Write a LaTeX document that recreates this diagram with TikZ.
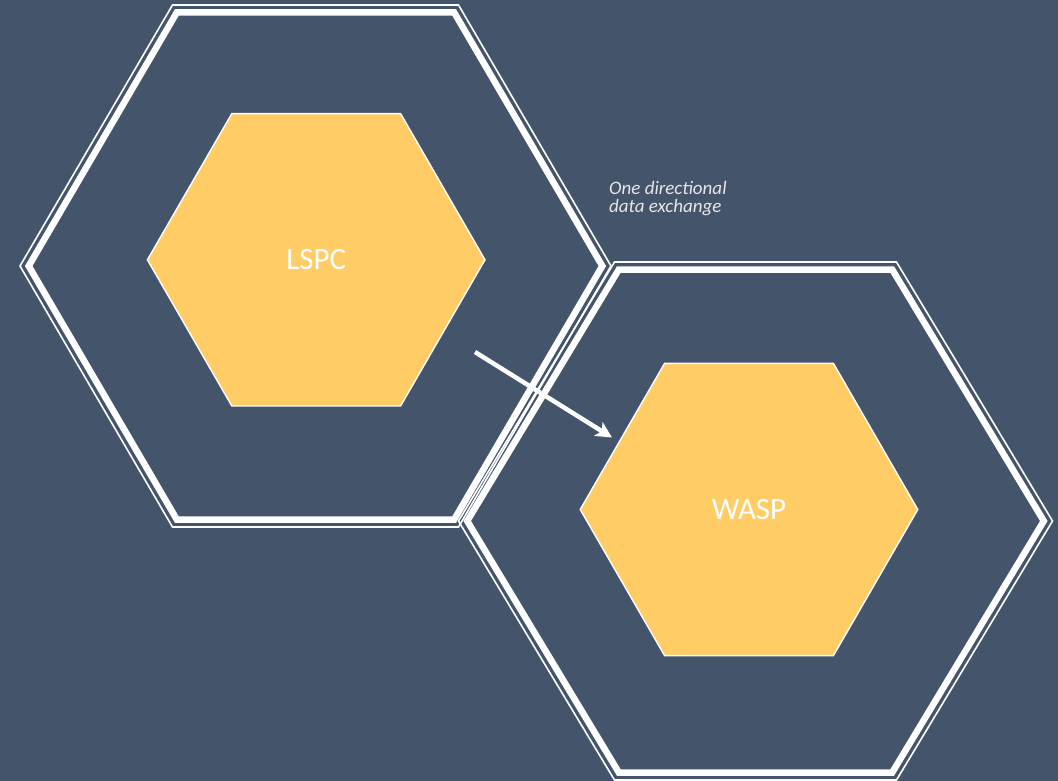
\documentclass[tikz,border=0pt]{standalone}
\usepackage{fontspec}
\setmainfont{Carlito}
\usetikzlibrary{arrows.meta,shapes.geometric}

\definecolor{slate}{HTML}{44546A}
\definecolor{gold}{HTML}{FFCC66}
\definecolor{paper}{HTML}{E7E6E6}

% flat-top hexagon: centre, half width, half top edge, half height
\newcommand{\hexring}[5][]{%
  \draw[#1, shift={(#2)}] (-#3,0) -- (-#4,-#5) -- (#4,-#5) -- (#3,0) -- (#4,#5) -- (-#4,#5) -- cycle;}

\begin{document}
\begin{tikzpicture}[x=1pt, y=-1pt,
    thinring/.style = {draw=white, line width=1.6pt},
    thickring/.style = {draw=white, line width=6.5pt},
    cell/.style = {regular polygon, regular polygon sides=6, minimum size=337.6pt, inner sep=0pt, outer sep=0pt,
                   fill=gold, draw=white, line width=1.4pt, text=white, font=\fontsize{31}{37}\selectfont},
    note/.style = {align=left, inner sep=0pt, text=paper, font=\itshape\fontsize{19}{18.5}\selectfont},
    flow/.style = {draw=white, line width=4.5pt, -{Stealth[length=16pt, width=16pt, inset=4pt]}}]

        \fill[slate] (0,0) rectangle (1058,781);
        \useasboundingbox (0,0) rectangle (1058,781);

        \coordinate (ring1) at (315.5,266);
        \coordinate (ring2) at (755.5,521);

        \hexring[thinring]{ring1}{295.5}{143}{261}
        \hexring[thickring]{ring1}{286.8}{138.7}{253.5}
        \hexring[thinring]{ring2}{297}{141}{259}
        \hexring[thickring]{ring2}{288.3}{136.7}{251.5}

        \node[cell] (lspc) at (316.2,259.8) {LSPC};
        \node[cell] (wasp) at (749,509.5) {WASP};

        \node[note, anchor=north west] (note) at (609,181) {One directional\\data exchange};

        \coordinate (from) at (475,352);
        \coordinate (to) at (612,437.5);
        \draw[flow] (from) -- (to);

\end{tikzpicture}
\end{document}
